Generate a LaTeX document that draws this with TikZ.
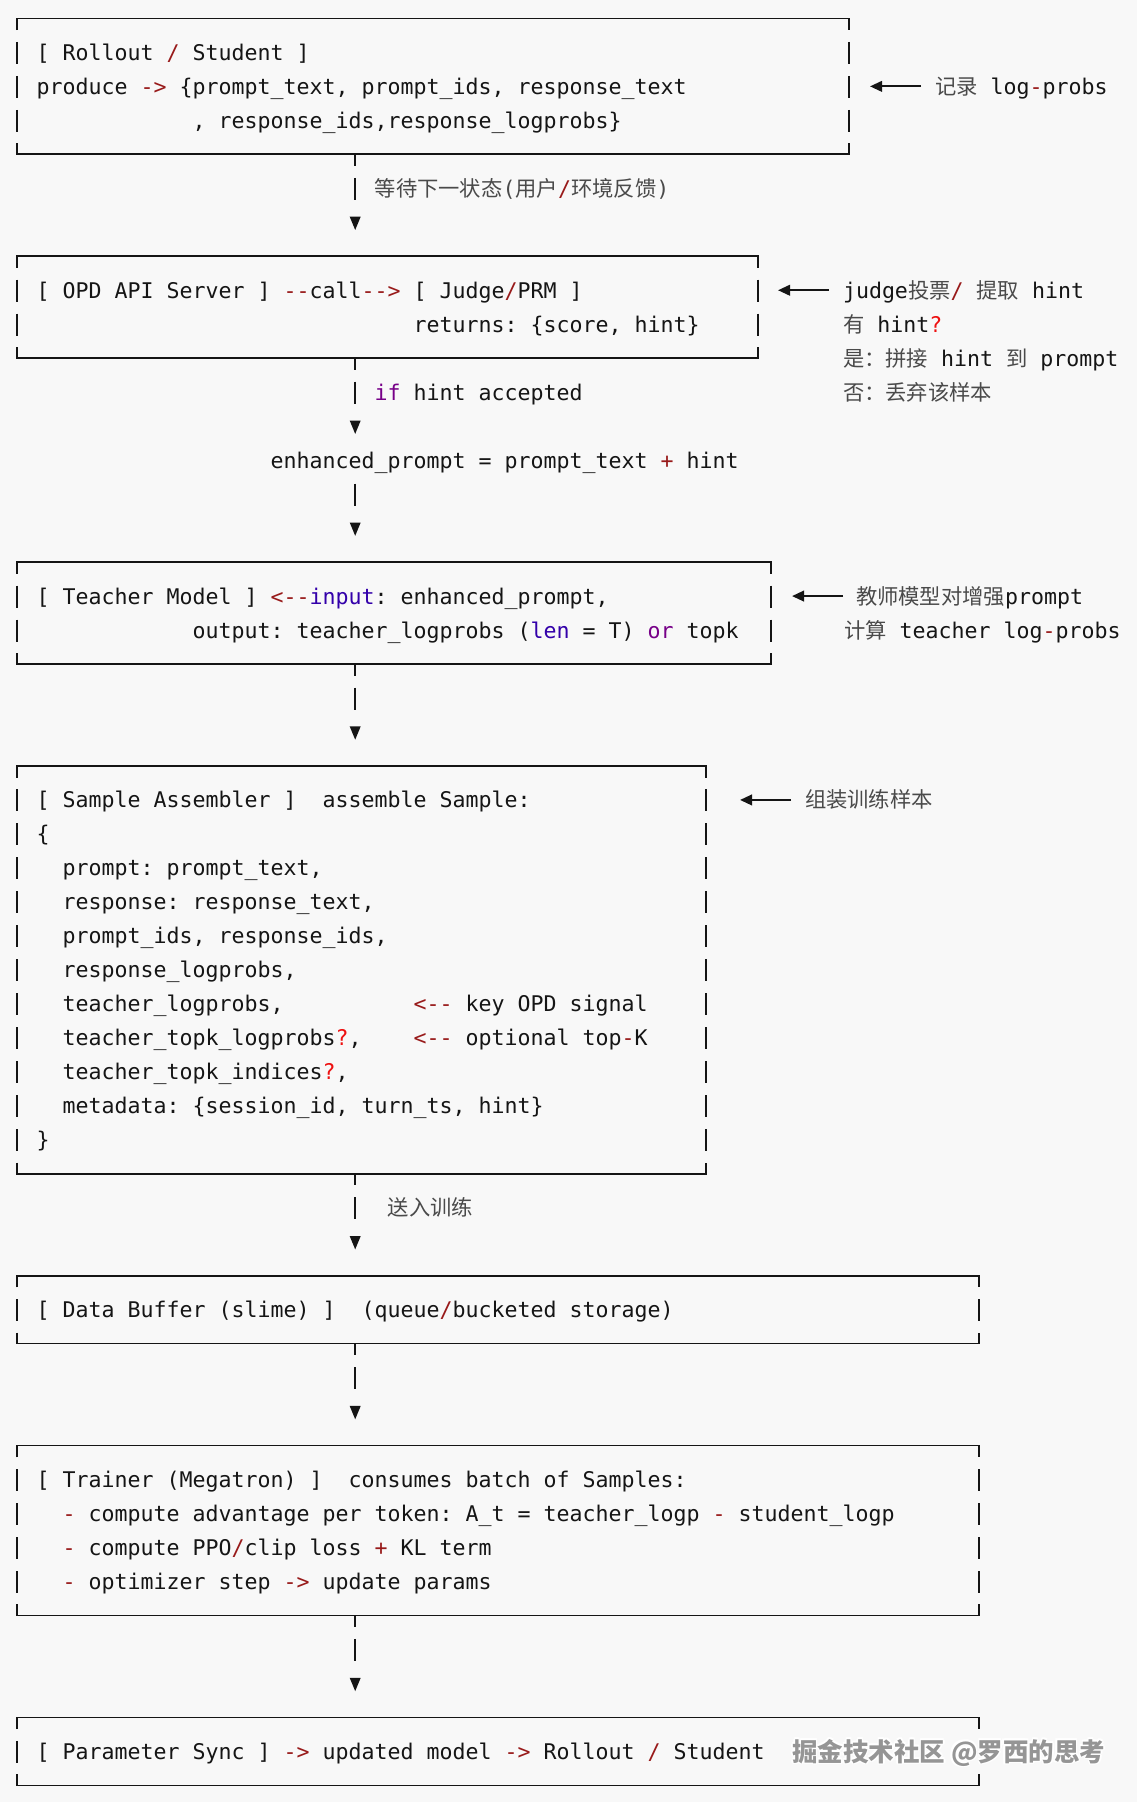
\documentclass[tikz,border=0pt]{standalone}
\usepackage{fontspec}
\setmonofont{DejaVu Sans Mono}
\newfontfamily\cjk{Noto Sans CJK SC}
\usetikzlibrary{arrows.meta}
\definecolor{bg}{HTML}{F8F8F8}
\definecolor{ink}{HTML}{151515}
\definecolor{opred}{HTML}{981A1A}
\definecolor{kwp}{HTML}{770088}
\definecolor{bib}{HTML}{3300AA}
\definecolor{qred}{HTML}{EE1111}
\definecolor{zhgray}{HTML}{4A4A4A}
\definecolor{wmgray}{HTML}{959595}
\newcommand\monotext{\ttfamily\fontsize{21.59}{34}\selectfont}
\newcommand\opc[1]{\textcolor{opred}{#1}}
\newcommand\kwc[1]{\textcolor{kwp}{#1}}
\newcommand\bic[1]{\textcolor{bib}{#1}}
\newcommand\qmc[1]{\textcolor{qred}{#1}}
\newcommand\grc[1]{\textcolor{zhgray}{#1}}
\newcommand\zhc[1]{{\cjk\fontsize{21.3}{21}\selectfont\color{zhgray}#1}}
\newcommand\myvbar[2]{\draw[bar] ({colx(#1)},{rowy(#2)-10.5}) -- ({colx(#1)},{rowy(#2)+11.5});}
\newcommand\mytri[2]{\fill[ink] ({colx(#1)-5.5},{rowy(#2)-5.6}) -- ({colx(#1)+5.5},{rowy(#2)-5.6}) -- ({colx(#1)},{rowy(#2)+7.7}) -- cycle;}
\newcommand\mytee[1]{\draw[frame] ({colx(26)},{rowy(#1)}) -- ({colx(26)},{rowy(#1)+11.7});}
\newcommand\asciibox[3]{%
  \draw[frame] ({colx(0)},{rowy(#1)+11.7}) -- ({colx(0)},{rowy(#1)}) -- ({colx(#3)},{rowy(#1)}) -- ({colx(#3)},{rowy(#1)+11.7});
  \draw[frame] ({colx(0)},{rowy(#2)-11}) -- ({colx(0)},{rowy(#2)}) -- ({colx(#3)},{rowy(#2)}) -- ({colx(#3)},{rowy(#2)-11});
  \pgfmathtruncatemacro\rowa{#1+1}\pgfmathtruncatemacro\rowb{#2-1}%
  \foreach \rr in {\rowa,...,\rowb}{\myvbar{0}{\rr}\myvbar{#3}{\rr}}}
\newcommand\txtat[4]{\node[txt] (#1) at ({cellx(#2)},{rowy(#3)+8}) {#4};}
\newcommand\txtabs[4]{\node[txt] (#1) at (#2,{rowy(#3)+8}) {#4};}
\newcommand\notearr[3]{\coordinate (#1s) at (#2,{rowy(#3)}); \coordinate (#1e) at ({#2-51},{rowy(#3)}); \draw[notearrow] (#1s) -- (#1e);}
\begin{document}
\begin{tikzpicture}[x=1pt,y=-1pt,
  declare function={colx(\c)=17.2+13*\c; cellx(\c)=10.7+13*\c; rowy(\r)=18.4+33.98*\r;},
  txt/.style={anchor=base west,inner sep=0pt,outer sep=0pt,font=\monotext,text=ink},
  frame/.style={draw=ink,line width=1.7pt,line join=miter},
  bar/.style={draw=ink,line width=1.6pt},
  notearrow/.style={draw=ink,line width=2.2pt,-{Triangle[length=12pt,width=10.5pt]}},
  wmark/.style={anchor=base west,inner sep=0pt,font=\cjk\bfseries\fontsize{25.5}{26}\selectfont}]
\fill[bg] (0,0) rectangle (1137,1802);
\useasboundingbox (0,0) rectangle (1137,1802);

% ---------- Rollout / Student
\asciibox{0}{4}{64}
\mytee{4}
\txtat{t1}{2}{1}{[ Rollout \opc{/} Student ]}
\txtat{t2}{2}{2}{produce \opc{->} \{prompt\_text, prompt\_ids, response\_text}
\txtat{t3}{14}{3}{, response\_ids,response\_logprobs\}}
\notearr{n1}{921}{2}
\txtabs{a1}{935}{2}{\zhc{记录} log\opc{-}probs}
\myvbar{26}{5}
\txtat{l1}{28}{5}{\zhc{等待下一状态}\grc{(}\zhc{用户}\opc{/}\zhc{环境反馈}\grc{)}}
\mytri{26}{6}

% ---------- OPD API Server
\asciibox{7}{10}{57}
\mytee{10}
\txtat{t8}{2}{8}{[ OPD API Server ] \opc{--}call\opc{-->} [ Judge\opc{/}PRM ]}
\txtat{t9}{31}{9}{returns: \{score, hint\}}
\notearr{n2}{829}{8}
\txtabs{a2}{843}{8}{judge\zhc{投票}\opc{/} \zhc{提取} hint}
\txtabs{a3}{843}{9}{\zhc{有} hint\qmc{?}}
\txtabs{a4}{843}{10}{\zhc{是：拼接} hint \zhc{到} prompt}
\txtabs{a5}{843}{11}{\zhc{否：丢弃该样本}}
\myvbar{26}{11}
\txtat{l2}{28}{11}{\kwc{if} hint accepted}
\mytri{26}{12}
\txtat{ep}{20}{13}{enhanced\_prompt = prompt\_text \opc{+} hint}
\myvbar{26}{14}
\mytri{26}{15}

% ---------- Teacher Model
\asciibox{16}{19}{58}
\mytee{19}
\txtat{t17}{2}{17}{[ Teacher Model ] \opc{<--}\bic{input}: enhanced\_prompt,}
\txtat{t18}{14}{18}{output: teacher\_logprobs (\bic{len} = T) \kwc{or} topk}
\notearr{n3}{843}{17}
\txtabs{a6}{856}{17}{\zhc{教师模型对增强}prompt}
\txtabs{a7}{844}{18}{\zhc{计算} teacher log\opc{-}probs}
\myvbar{26}{20}
\mytri{26}{21}

% ---------- Sample Assembler
\asciibox{22}{34}{53}
\mytee{34}
\txtat{t23}{2}{23}{[ Sample Assembler ]}
\txtat{t23b}{24}{23}{assemble Sample:}
\txtat{t24}{2}{24}{\{}
\txtat{t25}{4}{25}{prompt: prompt\_text,}
\txtat{t26}{4}{26}{response: response\_text,}
\txtat{t27}{4}{27}{prompt\_ids, response\_ids,}
\txtat{t28}{4}{28}{response\_logprobs,}
\txtat{t29}{4}{29}{teacher\_logprobs,}
\txtat{t29b}{31}{29}{\opc{<--} key OPD signal}
\txtat{t30}{4}{30}{teacher\_topk\_logprobs\qmc{?},}
\txtat{t30b}{31}{30}{\opc{<--} optional top\opc{-}K}
\txtat{t31}{4}{31}{teacher\_topk\_indices\qmc{?},}
\txtat{t32}{4}{32}{metadata: \{session\_id, turn\_ts, hint\}}
\txtat{t33}{2}{33}{\}}
\notearr{n4}{791}{23}
\txtabs{a8}{805}{23}{\zhc{组装训练样本}}
\myvbar{26}{35}
\txtat{l3}{29}{35}{\zhc{送入训练}}
\mytri{26}{36}

% ---------- Data Buffer
\asciibox{37}{39}{74}
\mytee{39}
\txtat{t38}{2}{38}{[ Data Buffer (slime) ]}
\txtat{t38b}{27}{38}{(queue\opc{/}bucketed storage)}
\myvbar{26}{40}
\mytri{26}{41}

% ---------- Trainer
\asciibox{42}{47}{74}
\mytee{47}
\txtat{t43}{2}{43}{[ Trainer (Megatron) ]}
\txtat{t43b}{26}{43}{consumes batch of Samples:}
\txtat{t44}{4}{44}{\opc{-} compute advantage per token: A\_t = teacher\_logp \opc{-} student\_logp}
\txtat{t45}{4}{45}{\opc{-} compute PPO\opc{/}clip loss \opc{+} KL term}
\txtat{t46}{4}{46}{\opc{-} optimizer step \opc{->} update params}
\myvbar{26}{48}
\mytri{26}{49}

% ---------- Parameter Sync
\draw[frame] ({colx(0)},{rowy(50)+11.7}) -- ({colx(0)},{rowy(50)}) -- ({colx(74)},{rowy(50)}) -- ({colx(74)},{rowy(50)+11.7});
\draw[frame] ({colx(0)},{rowy(52)-11}) -- ({colx(0)},{rowy(52)}) -- ({colx(74)},{rowy(52)}) -- ({colx(74)},{rowy(52)-11});
\myvbar{0}{51}
\txtat{t51}{2}{51}{[ Parameter Sync ] \opc{->} updated model \opc{->} Rollout \opc{/} Student}

% watermark
\foreach \dx/\dy [count=\k] in {1.5/0,-1.5/0,0/1.5,0/-1.5,1.1/1.1,-1.1/1.1,1.1/-1.1,-1.1/-1.1}
  \node[wmark,text=white] (wh\k) at (792+\dx,1761+\dy) {掘金技术社区 @罗西的思考};
\node[wmark,text=wmgray] (wm) at (792,1761) {掘金技术社区 @罗西的思考};
\end{tikzpicture}
\end{document}
